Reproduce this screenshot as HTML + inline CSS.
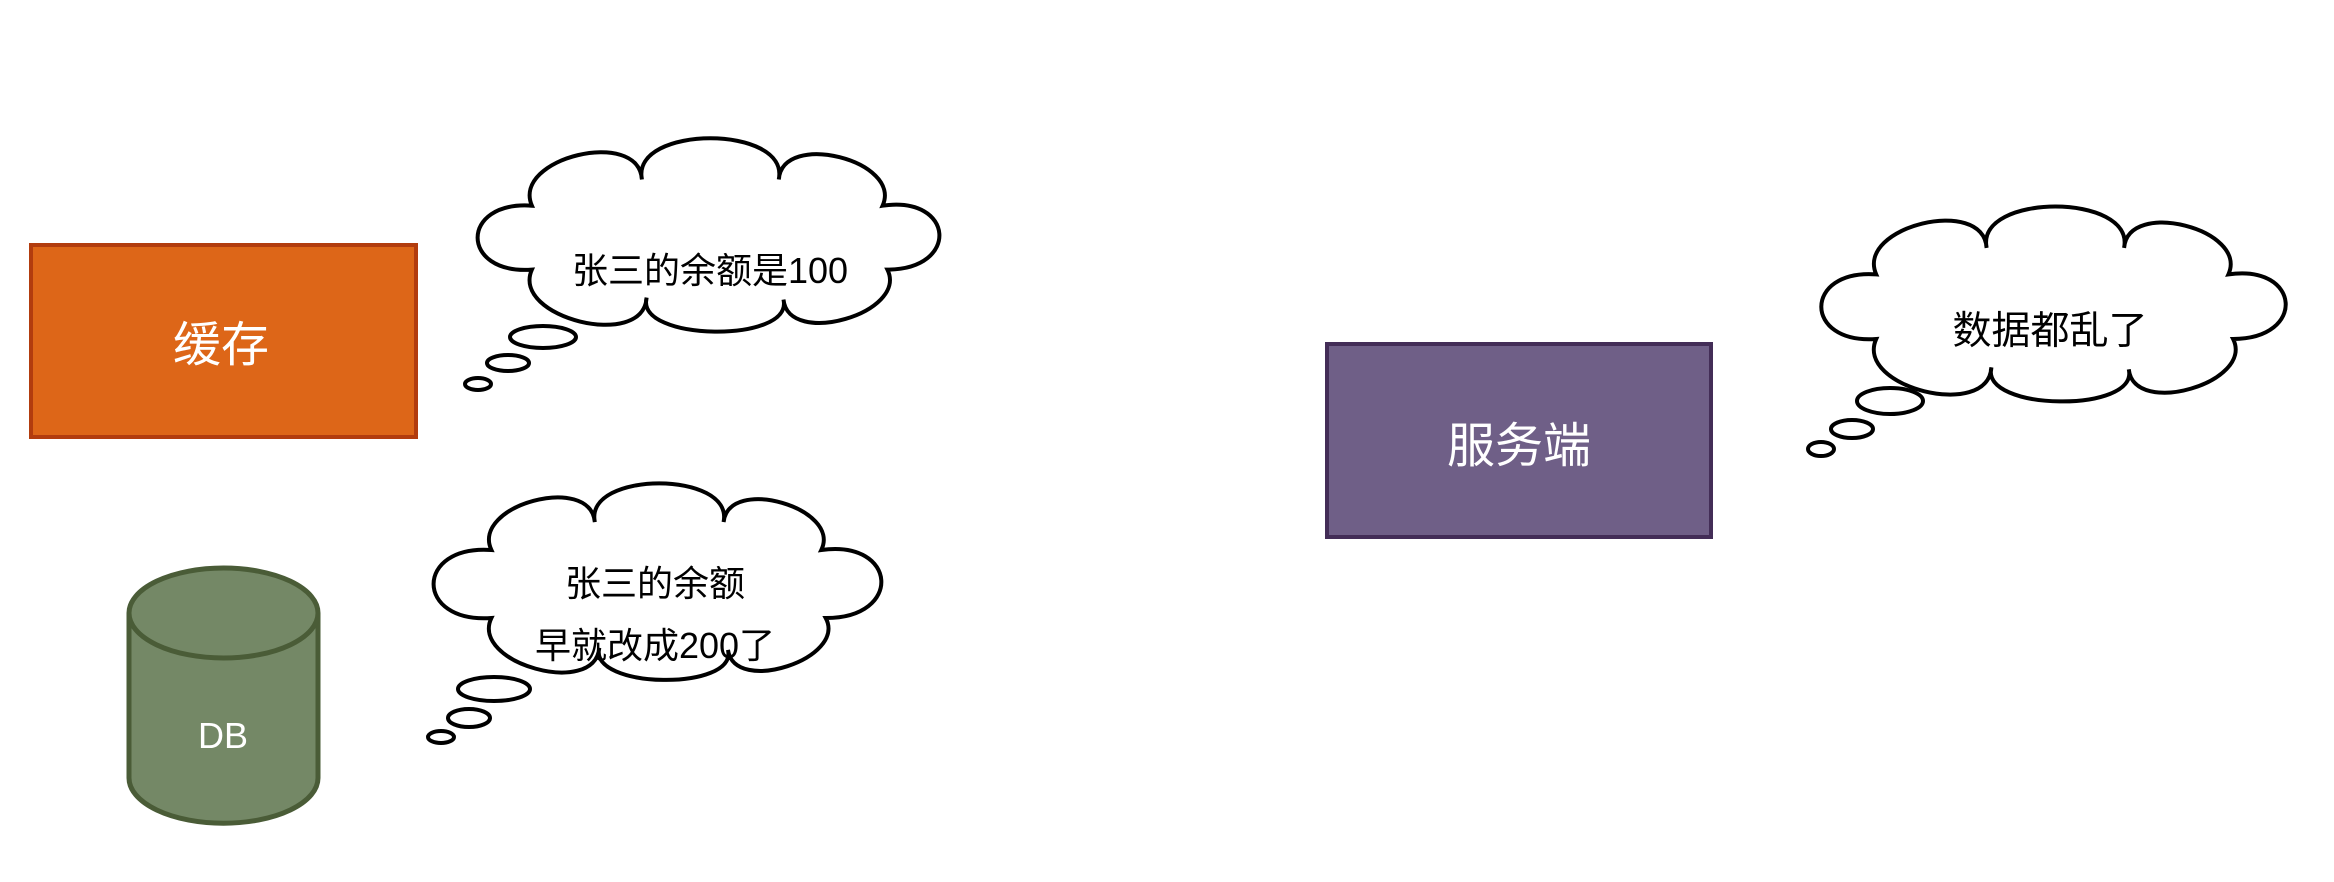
<!DOCTYPE html>
<html><head><meta charset="utf-8"><style>
html,body{margin:0;padding:0;background:#fff;}
body{width:2334px;height:882px;overflow:hidden;position:relative;font-family:"Liberation Sans","Noto Sans CJK SC",sans-serif;}
.t{position:absolute;text-align:center;white-space:nowrap;transform:translate(-50%,-50%);}
</style></head><body>
<svg id="s" width="2334" height="882" style="position:absolute;left:0;top:0">
<rect x="31" y="245" width="385" height="192" fill="#dd6618" stroke="#b23c0e" stroke-width="4"/>
<rect x="1327" y="344" width="384" height="193" fill="#6f5f87" stroke="#432d57" stroke-width="4"/>
<path d="M129 613 L129 778 A94 45 0 0 0 318 778 L318 613" fill="#748866" stroke="#4a5c37" stroke-width="5"/>
<ellipse cx="223.5" cy="613" rx="94.5" ry="45" fill="#748866" stroke="#4a5c37" stroke-width="5"/>
<path id="c1" fill="#fff" stroke="#000" stroke-width="4"/>
<path id="c2" fill="#fff" stroke="#000" stroke-width="4"/>
<path id="c3" fill="#fff" stroke="#000" stroke-width="4"/>
<g fill="#fff" stroke="#000" stroke-width="4">
<ellipse cx="543" cy="337" rx="33" ry="11"/>
<ellipse cx="508" cy="363" rx="21" ry="8"/>
<ellipse cx="478" cy="384" rx="13" ry="6"/>
<ellipse cx="494" cy="689" rx="36" ry="12"/>
<ellipse cx="469" cy="718" rx="21" ry="9"/>
<ellipse cx="441" cy="737" rx="13" ry="6"/>
<ellipse cx="1890" cy="401" rx="33" ry="13"/>
<ellipse cx="1852" cy="429" rx="21" ry="9"/>
<ellipse cx="1821" cy="449" rx="13" ry="7"/>
</g>
</svg>
<script>
(function(){
var P=[[0.127,0.36],[0.36,0.22],[0.65,0.22],[0.87,0.36],[0.88,0.70],[0.66,0.86],[0.37,0.85],[0.127,0.70]];
var K=[0.34,0.3,0.34,0.85,0.33,0.24,0.33,0.85];
function cloud(id,x,y,w,h){
  var pts=P.map(function(p){return [x+p[0]*w,y+p[1]*h];});
  var d="M"+pts[0][0].toFixed(1)+" "+pts[0][1].toFixed(1);
  for(var i=0;i<8;i++){
    var a=pts[i],b=pts[(i+1)%8];
    var dx=b[0]-a[0],dy=b[1]-a[1],L=Math.sqrt(dx*dx+dy*dy);
    var nx=dy/L,ny=-dx/L,hh=K[i]*L/0.75;
    var tx=dx/L,ty=dy/L,sp=0.08*L;
    d+=" C"+(a[0]+nx*hh-tx*sp).toFixed(1)+" "+(a[1]+ny*hh-ty*sp).toFixed(1)+" "+(b[0]+nx*hh+tx*sp).toFixed(1)+" "+(b[1]+ny*hh+ty*sp).toFixed(1)+" "+b[0].toFixed(1)+" "+b[1].toFixed(1);
  }
  document.getElementById(id).setAttribute("d",d+" Z");
}
cloud("c1",472,138,472,188);
cloud("c2",435,478,444,200);
cloud("c3",1816,206,474,190);
})();
</script>
<div class="t" style="left:221px;top:340px;font-size:48px;color:#fff">缓存</div>
<div class="t" style="left:1519px;top:441px;font-size:48px;color:#fff">服务端</div>
<div class="t" style="left:223px;top:736px;font-size:36px;color:#fff">DB</div>
<div class="t" style="left:710px;top:268px;font-size:36px;color:#000">张三的余额是100</div>
<div class="t" style="left:655px;top:581px;font-size:36px;color:#000">张三的余额</div>
<div class="t" style="left:655px;top:643px;font-size:36px;color:#000">早就改成200了</div>
<div class="t" style="left:2050px;top:328px;font-size:39px;color:#000">数据都乱了</div>
</body></html>
